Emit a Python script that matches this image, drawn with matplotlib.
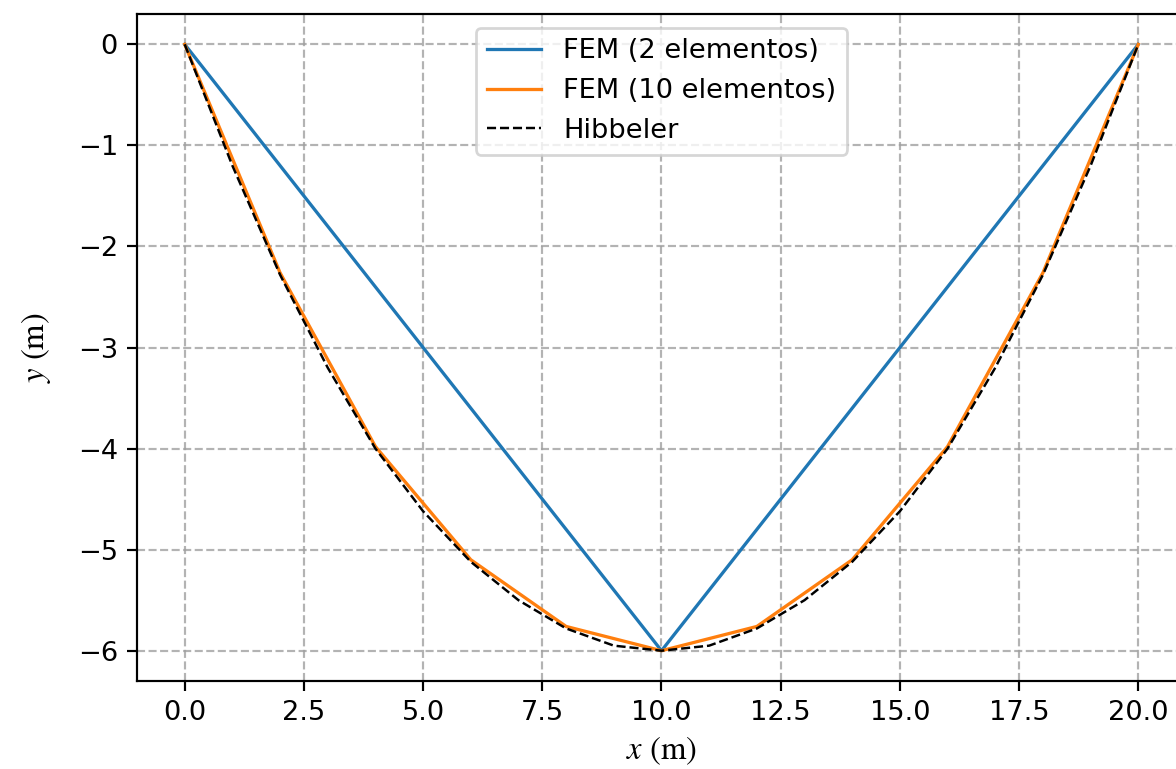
import matplotlib
matplotlib.use("Agg")
import matplotlib.pyplot as plt

plt.rcParams['mathtext.fontset'] = 'stix'

# FEM con 2 elementos
x_2el = [0, 10, 20]
y_2el = [0, -6.0, 0]

# FEM con 10 elementos
x_10el = [0, 2, 4, 6, 8, 10, 12, 14, 16, 18, 20]
y_10el = [0, -2.26, -3.98, -5.10, -5.76, -6.0, -5.76, -5.10, -3.98, -2.26, 0]

# solucion de Hibbeler
x_hib = [0, 1, 2, 3, 4, 5, 6, 7, 8, 9, 10, 11, 12, 13, 14, 15, 16, 17, 18, 19, 20]
y_hib = [0, -1.20, -2.28, -3.20, -4.00, -4.62, -5.12, -5.50, -5.78, -5.95, -6.00,
         -5.95, -5.78, -5.50, -5.12, -4.62, -4.00, -3.20, -2.28, -1.20, 0]

DPI = 196
fig = plt.figure(figsize=(1176 / DPI, 769 / DPI), dpi=DPI)
ax = fig.add_axes([0.1165, 0.1144, 0.892, 0.8674])

ax.plot(x_2el, y_2el, lw=1.2, label='FEM (2 elementos)')
ax.plot(x_10el, y_10el, lw=1.2, label='FEM (10 elementos)')
ax.plot(x_hib, y_hib, 'k--', lw=0.9, label='Hibbeler')

ax.set_xlabel(r'$x\ (\mathrm{m})$', fontsize=12, labelpad=3)
ax.set_ylabel(r'$y\ (\mathrm{m})$', fontsize=12, labelpad=9)
ax.grid(True, linestyle='--', color='#a0a0a0', alpha=0.8)
ax.legend(loc='upper center')

fig.savefig('out.png', dpi=DPI)
